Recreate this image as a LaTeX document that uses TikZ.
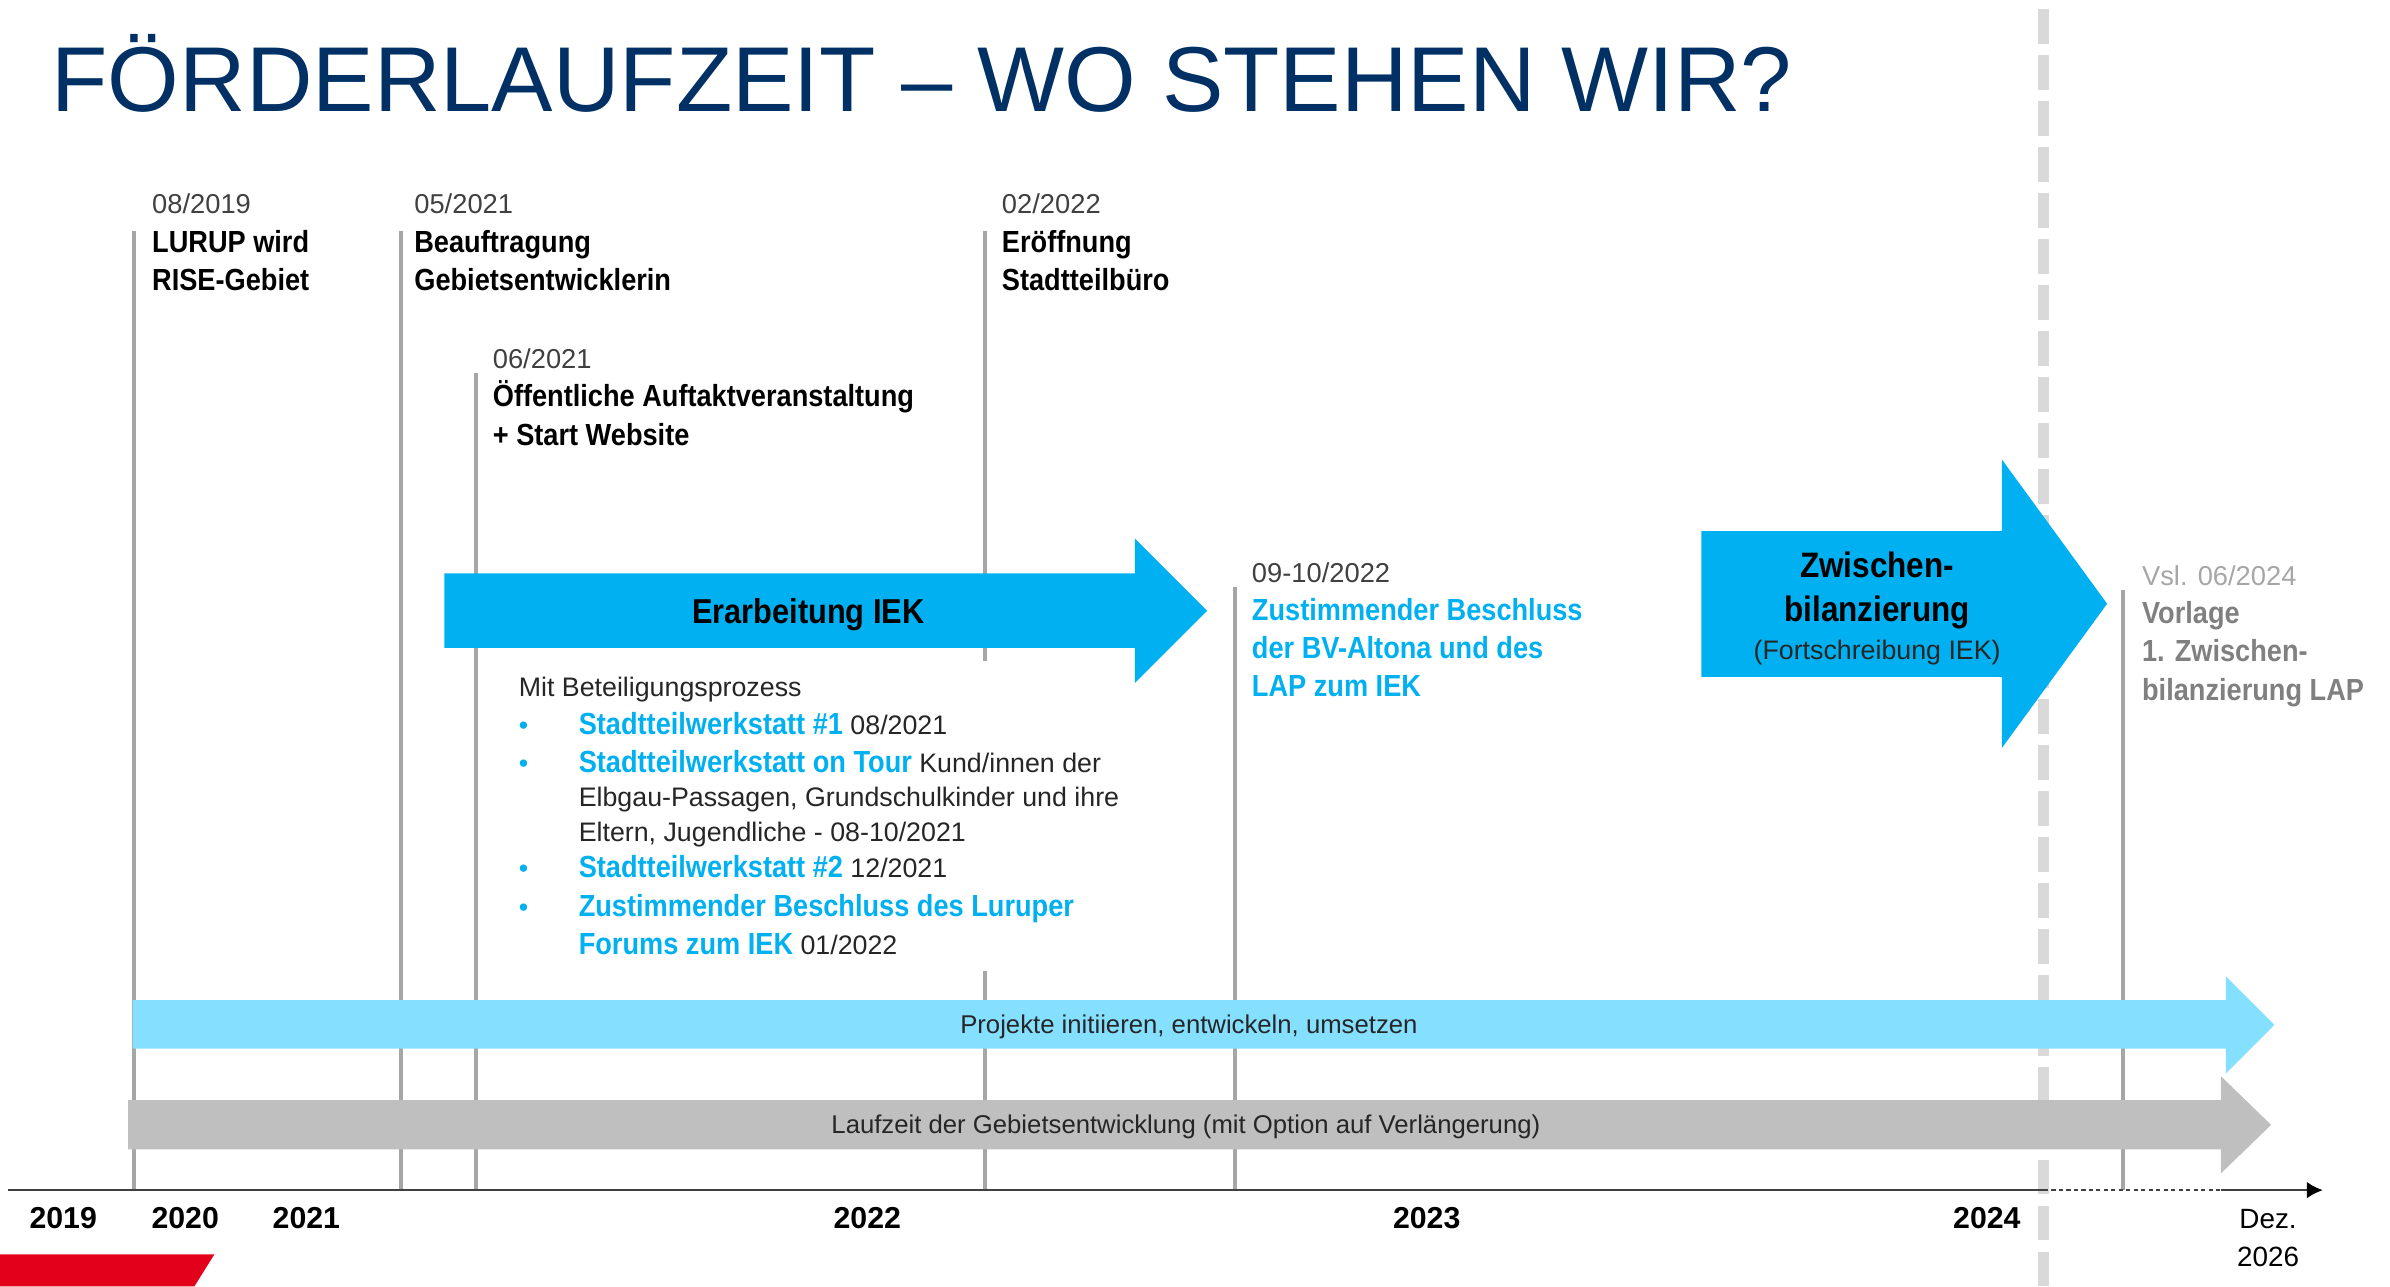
\documentclass[tikz,border=0pt]{standalone}
\usepackage{fontspec}
\setmainfont{Liberation Sans}
\newfontfamily\condfont[FakeStretch=0.89]{Liberation Sans}
\usetikzlibrary{arrows.meta}

\definecolor{titleblue}{RGB}{0,48,100}
\definecolor{iekblue}{RGB}{0,176,240}
\definecolor{projblue}{RGB}{133,223,255}
\definecolor{runtimegray}{RGB}{191,191,191}
\definecolor{markgray}{RGB}{166,166,166}
\definecolor{sepgray}{RGB}{217,217,217}
\definecolor{textgray}{RGB}{64,64,64}
\definecolor{bodygray}{RGB}{38,38,38}
\definecolor{plangray}{RGB}{128,128,128}
\definecolor{planlight}{RGB}{166,166,166}
\definecolor{axisgray}{RGB}{64,64,64}
\definecolor{risered}{RGB}{226,0,26}

\newcommand\evb[1][black]{\fontsize{11.4}{14.3}\condfont\bfseries\color{#1}}
\newcommand\blu[1]{{\fontsize{11.4}{14.3}\condfont\bfseries\color{iekblue}#1}}
\newcommand\bul{\makebox[22.4pt][l]{\textcolor{iekblue}{\textbullet}}}
\newcommand\ind{\hspace*{22.4pt}}

\begin{document}
\begin{tikzpicture}[x=0.02cm,y=-0.02cm,
  marker/.style={draw=markgray,line width=1.5pt},
  event/.style={anchor=north west,inner sep=0pt,align=left,text=textgray,font=\fontsize{10.2}{14.3}\selectfont},
  barlabel/.style={anchor=base,inner sep=0pt,text=bodygray,font=\fontsize{9.6}{11}\selectfont},
  year/.style={anchor=base,inner sep=0pt,font=\fontsize{11.3}{13}\selectfont\bfseries}]
\useasboundingbox (0,0) rectangle (1568,844);

\node[anchor=base west,inner sep=0pt,text=titleblue,font=\fontsize{34.4}{40}\selectfont] (title) at (33.5,73.3) {FÖRDERLAUFZEIT – WO STEHEN WIR?};

% Trennlinie heute
\coordinate (sepTop) at (1340.8,6.1);
\coordinate (sepBot) at (1340.8,850);
\draw[sepgray,line width=4.3pt,dash pattern=on 12.97pt off 4.21pt] (sepTop) -- (sepBot);

% Zeitachse
\coordinate (ax0) at (5,780.8);
\coordinate (axSep) at (1340.8,780.8);
\coordinate (axDot) at (1457,780.8);
\coordinate (axEnd) at (1524,780.8);

% Meilensteine
\coordinate (m2019) at (87.7,151.6);
\coordinate (m2021a) at (262.9,151.6);
\coordinate (m2021b) at (312.6,245);
\coordinate (m2022a) at (646.3,151.6);
\coordinate (m2022b) at (810,385);
\coordinate (m2024) at (1392.8,387);
\foreach \m in {m2019,m2021a,m2021b,m2022a,m2022b,m2024}
  \draw[marker] (\m) -- (\m |- ax0);

\draw[axisgray,line width=0.9pt] (ax0) -- (axSep);
\draw[axisgray,line width=0.6pt,dash pattern=on 1.6pt off 1.2pt] (axSep) -- (axDot);
\draw[axisgray,line width=0.9pt,-{Latex[length=6pt,width=6.2pt,black]}] (axDot) -- (axEnd);

\node[event] (e2019) at (99.5,127) {08/2019\\\evb LURUP wird\\\evb RISE-Gebiet};
\node[event] (e2021a) at (271.5,127) {05/2021\\\evb Beauftragung\\\evb Gebietsentwicklerin};
\node[event] (e2021b) at (323,228.5) {06/2021\\\evb Öffentliche Auftaktveranstaltung\\\evb + Start Website};
\node[event] (e2022a) at (657,127) {02/2022\\\evb Eröffnung\\\evb Stadtteilbüro};
\node[event] (e2022b) at (821,368.5) {09-10/2022\\\evb[iekblue] Zustimmender Beschluss\\\evb[iekblue] der BV-Altona und des\\\evb[iekblue] LAP zum IEK};
\node[event,text=planlight] (e2024) at (1405,370.7) {Vsl. 06/2024\\\evb[plangray] Vorlage\\\evb[plangray] 1. Zwischen-\\\evb[plangray] bilanzierung LAP};

\node[anchor=north west,fill=white,inner xsep=2pt,inner ysep=6pt,align=left,text=bodygray,font=\fontsize{10}{14.3}\selectfont] (beteiligung) at (336.5,433) {Mit Beteiligungsprozess\\
\bul\blu{Stadtteilwerkstatt \#1} 08/2021\\
\bul\blu{Stadtteilwerkstatt on Tour} Kund/innen der\\[-1.55pt]
\ind Elbgau-Passagen, Grundschulkinder und ihre\\[-1.5pt]
\ind Eltern, Jugendliche - 08-10/2021\\[-0.6pt]
\bul\blu{Stadtteilwerkstatt \#2} 12/2021\\
\bul\blu{Zustimmender Beschluss des Luruper}\\
\ind\blu{Forums zum IEK} 01/2022};

% Pfeile
\fill[iekblue] (291.6,376.2) -- (744.5,376.2) -- (744.5,353.2) -- (792,400.7) -- (744.5,448.2) -- (744.5,425) -- (291.6,425) -- cycle;
\node[anchor=base,inner sep=0pt,font=\fontsize{12.9}{15}\condfont\bfseries] (iek) at (530.3,409) {Erarbeitung IEK};

\fill[iekblue] (1116.2,348.4) -- (1313.3,348.4) -- (1313.3,301.4) -- (1382.4,396.1) -- (1313.3,490.8) -- (1313.3,444) -- (1116.2,444) -- cycle;
\node[anchor=north,inner sep=0pt,align=center,font=\fontsize{13.2}{16.2}\condfont\bfseries] (zb) at (1231.5,361.8) {Zwischen-\\bilanzierung\\[-1.9pt]{\fontsize{10}{12}\normalfont\color{bodygray}(Fortschreibung IEK)}};

\fill[projblue] (87,656.2) -- (1460.3,656.2) -- (1460.3,640.4) -- (1492.2,672.3) -- (1460.3,704.3) -- (1460.3,687.9) -- (87,687.9) -- cycle;
\node[barlabel] (proj) at (780,678) {Projekte initiieren, entwickeln, umsetzen};

\fill[runtimegray] (84,721.8) -- (1457,721.8) -- (1457,706) -- (1490,738) -- (1457,769.9) -- (1457,754.1) -- (84,754.1) -- cycle;
\node[barlabel] (runtime) at (778,743.7) {Laufzeit der Gebietsentwicklung (mit Option auf Verlängerung)};

% Jahre
\foreach \x/\yr in {41.5/2019,121.5/2020,201/2021,569/2022,936/2023,1303.5/2024}
  \node[year] (y\yr) at (\x,806) {\yr};
\node[anchor=base,inner sep=0pt,font=\fontsize{10.4}{13}\selectfont] (dez) at (1488,806) {Dez.};
\node[anchor=base,inner sep=0pt,font=\fontsize{10.4}{13}\selectfont] (y2026) at (1488,831.1) {2026};

\fill[risered] (0,823) -- (140.6,823) -- (127.5,844) -- (0,844) -- cycle;
\end{tikzpicture}
\end{document}
